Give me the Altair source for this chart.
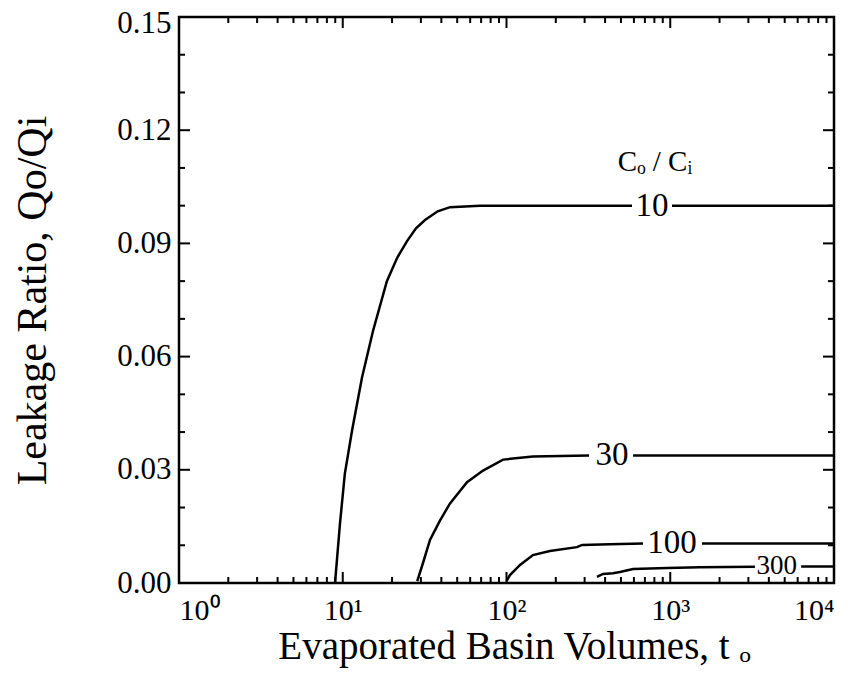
import altair as alt
import pandas as pd

# ---- data ----
c10_x1 = [8.97, 9.62, 10.3, 11.4, 13.1, 15.3, 18.6, 21.5, 24.7, 28.0, 31.8, 38.0, 45.2, 68.9, 584]
c10_y1 = [0.0, 0.0158, 0.029, 0.0404, 0.0544, 0.0668, 0.080, 0.0862, 0.0906, 0.0940, 0.0962, 0.0985, 0.0996, 0.1, 0.1]
c10_x2 = [1025, 10000]
c10_y2 = [0.1, 0.1]

c30_x1 = [28.5, 30.9, 34.1, 39.3, 45.2, 57.4, 71.9, 95.3, 145, 319]
c30_y1 = [0.0005, 0.0053, 0.0114, 0.0166, 0.0211, 0.0267, 0.0298, 0.0327, 0.0335, 0.0338]
c30_x2 = [593, 10000]
c30_y2 = [0.0338, 0.0338]

c100_x1 = [100, 105, 121, 145, 184, 269, 290, 429, 682]
c100_y1 = [0.0005, 0.0021, 0.0048, 0.0074, 0.0085, 0.0095, 0.0101, 0.0103, 0.0105]
c100_x2 = [1563, 10000]
c100_y2 = [0.0105, 0.0105]

c300_x1 = [357, 388, 447, 493, 593, 955, 1517, 3290]
c300_y1 = [0.0016, 0.0024, 0.0026, 0.0029, 0.0037, 0.0040, 0.0042, 0.0043]
c300_x2 = [6300, 10000]
c300_y2 = [0.0044, 0.0044]

label_text = ["10", "30", "100", "300"]
label_x = [774, 441, 1024, 4470]
label_y = [0.1, 0.0338, 0.0105, 0.0045]
label_size = [33, 33, 33, 27]

header_text = ["C\u2092 / C\u1d62"]
header_x = [807]
header_y = [0.1117]

x_major = [1, 10, 100, 1000, 10000]
x_minor = [m * 10 ** k for k in range(4) for m in range(2, 10)]
y_major = [0.0, 0.03, 0.06, 0.09, 0.12, 0.15]
y_minor = [0.01, 0.02, 0.04, 0.05, 0.07, 0.08, 0.10, 0.11, 0.13, 0.14]

# ---- build tables ----
rows = []
order = 0
for name, segs in [
    ("10", [(c10_x1, c10_y1), (c10_x2, c10_y2)]),
    ("30", [(c30_x1, c30_y1), (c30_x2, c30_y2)]),
    ("100", [(c100_x1, c100_y1), (c100_x2, c100_y2)]),
    ("300", [(c300_x1, c300_y1), (c300_x2, c300_y2)]),
]:
    for si, (xs, ys) in enumerate(segs):
        for xv, yv in zip(xs, ys):
            rows.append({"x": xv, "y": yv, "seg": f"{name}_{si}", "o": order})
            order += 1
curves = pd.DataFrame(rows)

labels = pd.DataFrame({"x": label_x, "y": label_y, "t": label_text, "s": label_size})
header = pd.DataFrame({"x": header_x, "y": header_y, "t": header_text})

W, H = 655, 566
FONT = "Liberation Serif"

xscale = alt.Scale(type="log", domain=[1, 10000], nice=False)
yscale = alt.Scale(domain=[0, 0.15], nice=False, zero=False)

xaxis = alt.Axis(
    values=x_major,
    labelExpr="{'1':'10⁰','10':'10¹','100':'10²','1000':'10³','10000':'10⁴'}[datum.value+'']",
    tickSize=0, domain=False, grid=False,
    labelFont=FONT, labelFontSize=30, labelPadding=12, labelColor="black",
    title="Evaporated Basin Volumes, t \u2092",
    titleFont=FONT, titleFontSize=39, titleFontWeight="normal",
    titleBaseline="alphabetic", titleAlign="center", titleX=335, titleY=75,
    titleColor="black",
)
yaxis = alt.Axis(
    values=y_major, format=".2f",
    tickSize=0, domain=False, grid=False,
    labelFont=FONT, labelFontSize=31, labelPadding=8, labelColor="black",
    labelOffset={"condition": {"test": "datum.value >= 0.149", "value": 6}, "value": 0},
    title="Leakage Ratio, Qo/Qi",
    titleFont=FONT, titleFontSize=42, titleFontWeight="normal",
    titleBaseline="alphabetic", titleAngle=270, titleX=-134, titleY=H / 2,
    titleColor="black",
)

lines = alt.Chart(curves).mark_line(color="black", strokeWidth=2.5, clip=True).encode(
    x=alt.X("x:Q", scale=xscale, axis=xaxis),
    y=alt.Y("y:Q", scale=yscale, axis=yaxis),
    detail="seg:N",
    order="o:Q",
)

texts = alt.Chart(labels).mark_text(font=FONT, color="black", baseline="middle").encode(
    x=alt.X("x:Q", scale=xscale, axis=xaxis),
    y=alt.Y("y:Q", scale=yscale, axis=yaxis),
    text="t:N",
    size=alt.Size("s:Q", scale=None, legend=None),
)

head = alt.Chart(header).mark_text(font=FONT, color="black", fontSize=29, baseline="middle").encode(
    x=alt.X("x:Q", scale=xscale, axis=xaxis),
    y=alt.Y("y:Q", scale=yscale, axis=yaxis),
    text="t:N",
)

def xticks(vals, length):
    df = pd.DataFrame({"v": vals})
    base = alt.Chart(df).mark_rule(color="black", strokeWidth=2)
    bot = base.encode(x=alt.X("v:Q", scale=xscale, axis=xaxis), y=alt.value(H), y2=alt.value(H - length))
    top = base.encode(x=alt.X("v:Q", scale=xscale, axis=xaxis), y=alt.value(0), y2=alt.value(length))
    return [bot, top]

def yticks(vals, length):
    df = pd.DataFrame({"v": vals})
    base = alt.Chart(df).mark_rule(color="black", strokeWidth=2)
    left = base.encode(y=alt.Y("v:Q", scale=yscale, axis=yaxis), x=alt.value(0), x2=alt.value(length))
    right = base.encode(y=alt.Y("v:Q", scale=yscale, axis=yaxis), x=alt.value(W), x2=alt.value(W - length))
    return [left, right]

layers = [lines, texts, head] + xticks(x_major, 11) + xticks(x_minor, 6) + yticks(y_major, 11) + yticks(y_minor, 6)

chart = alt.layer(*layers).properties(
    width=W, height=H,
    autosize=alt.AutoSizeParams(type="none"),
    padding={"left": 171, "top": 9, "right": 23, "bottom": 98},
    background="white",
).configure_view(stroke="black", strokeWidth=2.5)

chart.save("out.html", embed_options={"renderer": "svg", "actions": False})
